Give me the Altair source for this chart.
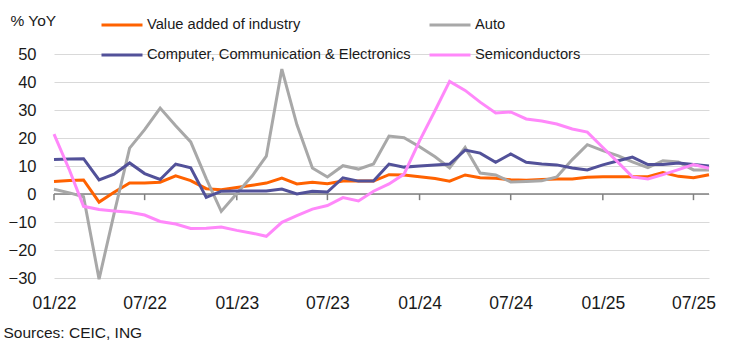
import altair as alt
import pandas as pd

months = pd.date_range("2022-01-01", "2025-08-01", freq="MS").strftime("%Y-%m-%d").tolist()

value_added = [4.5, 4.8, 5.0, -2.9, 0.6, 3.9, 3.9, 4.2, 6.5, 4.8,
               1.9, 1.5, 2.3, 3.1, 3.9, 5.7, 3.6, 4.2, 3.7, 4.6,
               4.6, 4.6, 6.9, 6.8, 6.2, 5.5, 4.6, 6.8, 5.8, 5.6,
               5.1, 4.9, 5.2, 5.4, 5.4, 6.0, 6.2, 6.2, 6.2, 6.2,
               7.7, 6.3, 5.8, 6.9]
auto = [1.7, 0.4, -1.0, -30.4, -7.0, 16.4, 23.0, 30.7, 24.4, 18.6,
        5.5, -6.2, 0.2, 6.5, 13.5, 44.6, 24.8, 9.3, 6.1, 10.1,
        8.9, 10.7, 20.7, 20.1, 16.9, 13.3, 9.3, 16.6, 7.5, 6.8,
        4.3, 4.5, 4.7, 6.1, 12.3, 17.6, 15.5, 13.6, 11.5, 9.4,
        11.9, 11.4, 8.6, 8.6]
computer = [12.3, 12.5, 12.6, 5.0, 7.1, 11.1, 7.3, 5.2, 10.7, 9.4,
            -1.2, 1.0, 1.1, 1.1, 1.1, 1.8, 0.0, 1.0, 0.7, 5.8,
            4.6, 4.6, 10.7, 9.6, 10.0, 10.4, 10.7, 15.7, 14.6, 11.3,
            14.3, 11.3, 10.7, 10.4, 9.3, 8.6, 10.4, 11.9, 13.2, 10.5,
            10.5, 11.1, 10.5, 10.0]
semis = [21.4, 8.5, -4.4, -5.5, -6.1, -6.5, -7.5, -9.8, -10.7, -12.3,
         -12.2, -11.8, -13.0, -14.0, -15.1, -10.1, -7.7, -5.4, -4.1, -1.3,
         -2.5, 1.0, 3.6, 7.1, 19.0, 29.8, 40.2, 37.0, 32.8, 28.9,
         29.3, 26.8, 26.1, 25.0, 23.2, 22.1, 16.6, 11.2, 6.1, 5.4,
         6.9, 8.7, 10.5, 9.2]

series_names = ["Value added of industry", "Auto",
                "Computer, Communication & Electronics", "Semiconductors"]
series_colors = ["#FF6200", "#A8A8A8", "#525199", "#FF88FA"]
tick_dates = ["2022-01-01", "2022-07-01", "2023-01-01", "2023-07-01",
              "2024-01-01", "2024-07-01", "2025-01-01", "2025-07-01"]
y_ticks = [-30, -20, -10, 0, 10, 20, 30, 40, 50]

rows = []
for name, vals in zip(series_names, [value_added, auto, computer, semis]):
    for m, v in zip(months, vals):
        rows.append({"date": m, "series": name, "value": v})
df = pd.DataFrame(rows)
ticks_df = pd.DataFrame({"date": tick_dates, "value": [0] * len(tick_dates),
                         "low": [-2.2] * len(tick_dates)})
zero_df = pd.DataFrame({"value": [0]})

FONT = "Liberation Sans"
TXT = "#1a1a1a"

x_scale = alt.Scale(type="utc", domain=[months[0], months[-1]], nice=False)
y_scale = alt.Scale(domain=[-30, 50], nice=False)

x_dt = [alt.DateTime(year=int(d[:4]), month=int(d[5:7]), date=1, utc=True) for d in tick_dates]

x_axis = alt.Axis(values=x_dt, format="%m/%y", domain=False, ticks=False,
                  grid=False, labelPadding=16, labelFont=FONT, labelFontSize=17.5,
                  labelColor=TXT, labelFlush=False, labelOverlap=False,
                  title="Sources: CEIC, ING", titleFont=FONT,
                  titleFontSize=15.5, titleFontWeight="normal", titleColor=TXT,
                  titleAnchor="start", titleAlign="left", titleBaseline="alphabetic",
                  titleX=-51, titleY=59)
y_axis = alt.Axis(values=y_ticks, domain=False, ticks=False, grid=True,
                  gridColor="#d9d9d9", gridWidth=1, labelPadding=18,
                  labelFont=FONT, labelFontSize=16.5, labelColor=TXT,
                  labelOverlap=False, labelFlush=False,
                  title="% YoY", titleAngle=0, titleFont=FONT, titleFontSize=15.5,
                  titleFontWeight="normal", titleColor=TXT, titleAlign="left",
                  titleBaseline="alphabetic", titleX=-44, titleY=-29)

zero = alt.Chart(zero_df).mark_rule(color="#808080", strokeWidth=1.5).encode(
    y=alt.Y("value:Q", scale=y_scale, axis=y_axis)
)
ticks = alt.Chart(ticks_df).mark_rule(color="#808080", strokeWidth=1.5).encode(
    x=alt.X("date:T", scale=x_scale, axis=x_axis),
    y=alt.Y("value:Q", scale=y_scale, axis=y_axis),
    y2="low:Q",
)
lines = alt.Chart(df).mark_line(strokeWidth=3).encode(
    x=alt.X("date:T", scale=x_scale, axis=x_axis),
    y=alt.Y("value:Q", scale=y_scale, axis=y_axis),
    color=alt.Color("series:N",
                    scale=alt.Scale(domain=series_names, range=series_colors),
                    legend=alt.Legend(orient="none", legendX=46, legendY=-37, columns=2,
                                      direction="horizontal", title=None,
                                      symbolType="stroke", symbolSize=1681,
                                      symbolStrokeWidth=3, clipHeight=16,
                                      labelFont=FONT, labelFontSize=14.7, labelColor=TXT,
                                      labelLimit=0, labelOffset=3, columnPadding=17,
                                      rowPadding=14, padding=0)),
)

chart = alt.layer(zero, ticks, lines).properties(
    width=655, height=224,
    padding={"left": 54, "top": 54, "right": 35, "bottom": 65},
    autosize=alt.AutoSizeParams(type="none"),
    background="white",
).configure_view(stroke=None)

chart.save("out.html", embed_options={"renderer": "svg", "actions": False})
